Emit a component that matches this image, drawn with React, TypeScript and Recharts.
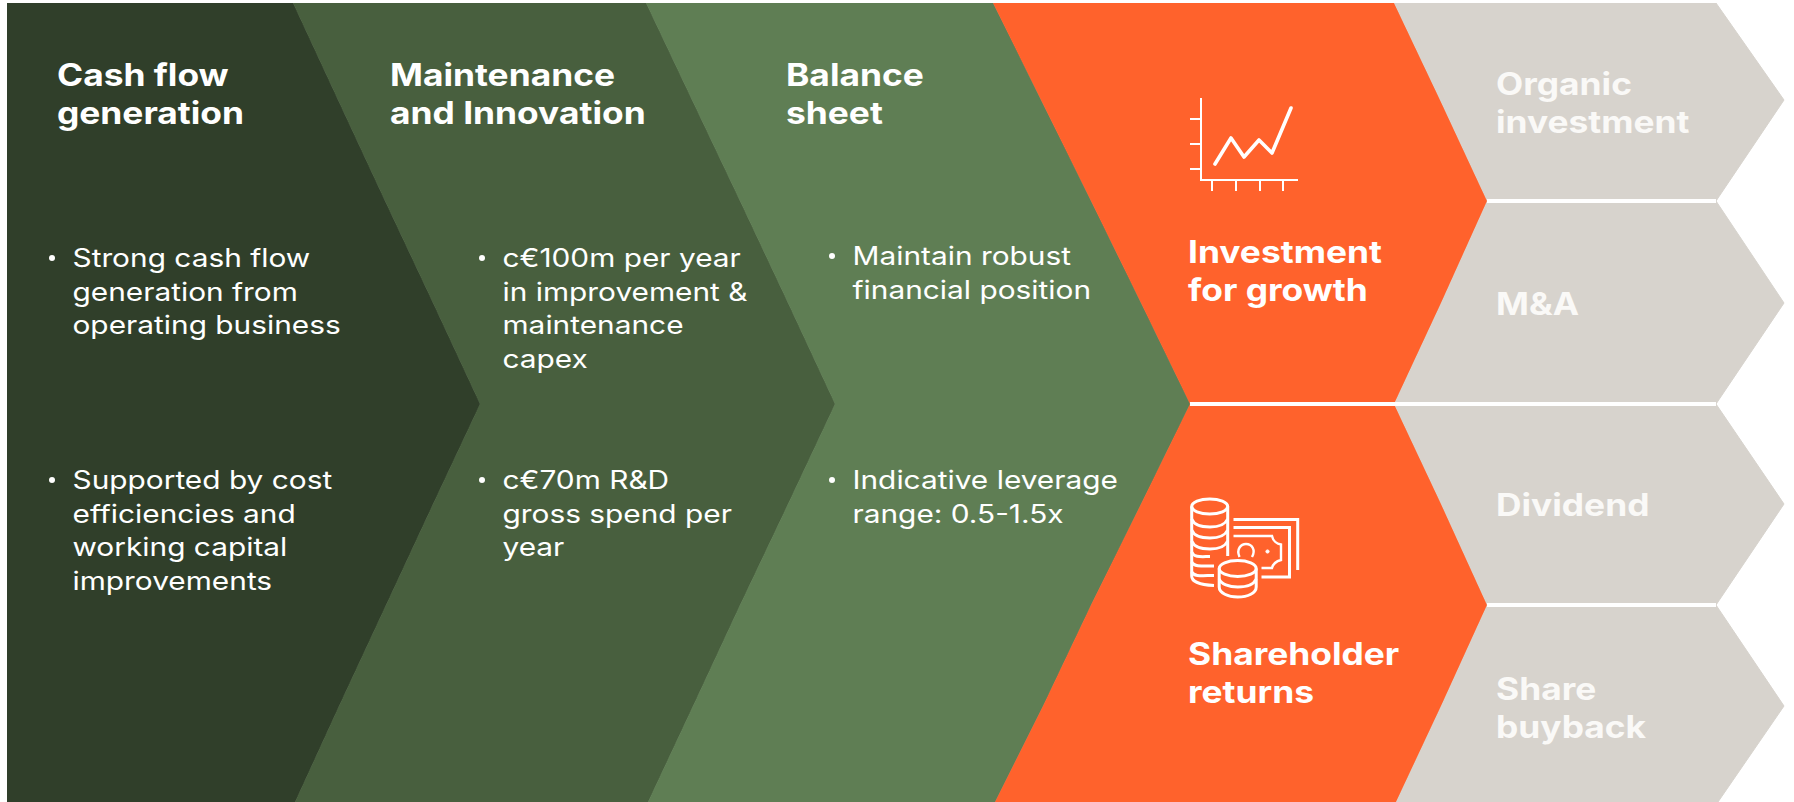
import { Area, ComposedChart, ReferenceLine, XAxis, YAxis } from "recharts";

const WIDTH = 1794;
const HEIGHT = 802;

// Vertical position down the diagram where each outline changes direction
const levels = [3, 100, 201, 303, 404, 504, 605, 706, 802];

// Stacked span of each stage at every level
const leftMargin = [7, 7, 7, 7, 7, 7, 7, 7, 7];
const cashFlow = [286, 331, 378, 426, 473, 426, 379, 332, 288];
const maintenance = [353, 354, 355, 355, 355, 355, 354, 354, 353];
const balanceSheet = [347, 349, 351, 353, 355, 353, 351, 350, 347];
const allocation = [401, 399, 396, 300, 204, 300, 396, 398, 401];
const outcomes = [322, 344, 229, 343, 322, 343, 229, 343, 322];

const stages = [
  { key: "cashFlow", color: "#303F2A" },
  { key: "maintenance", color: "#485F3E" },
  { key: "balanceSheet", color: "#5F7E54" },
  { key: "allocation", color: "#FF622C" },
  { key: "outcomes", color: "#D7D3CD" },
];

const chartData = levels.map((level, i) => ({
  level,
  leftMargin: leftMargin[i],
  cashFlow: cashFlow[i],
  maintenance: maintenance[i],
  balanceSheet: balanceSheet[i],
  allocation: allocation[i],
  outcomes: outcomes[i],
}));

// White gaps between the stacked blocks on the right
const gapLevelIndexes = [2, 4, 6];
const gaps = gapLevelIndexes.map((i) => {
  const greens = leftMargin[i] + cashFlow[i] + maintenance[i] + balanceSheet[i];
  const end = greens + allocation[i] + outcomes[i];
  return { y: levels[i], from: i === 4 ? greens : greens + allocation[i], to: end };
});

const FONT = "Inter, 'Noto Sans', sans-serif";

// The original typeface is wider than Inter, so the text gets stretched sideways
const Lines = ({ x, y, lines, size, weight, gap, fill = "#fff", stretch = 1.14 }: any) => (
  <text
    transform={`matrix(${stretch} 0 0 1 ${x * (1 - stretch)} 0)`}
    x={x}
    y={y}
    fontFamily={FONT}
    fontSize={size}
    fontWeight={weight}
    fill={fill}
  >
    {lines.map((line: string, i: number) => (
      <tspan key={line} x={x} dy={i === 0 ? 0 : gap}>
        {line}
      </tspan>
    ))}
  </text>
);

const Heading = ({ x, y, lines, fill }: any) => (
  <Lines x={x} y={y} lines={lines} size={31} weight={700} gap={38.5} fill={fill} />
);

const Bullet = ({ x, y, lines }: any) => (
  <g>
    <circle cx={x} cy={y - 9} r={3} fill="#fff" />
    <Lines x={x + 20.5} y={y} lines={lines} size={25.5} weight={400} gap={33.6} stretch={1.17} />
  </g>
);

const GrowthIcon = () => (
  <g fill="none" stroke="#fff" strokeWidth={2}>
    <path d="M1201 98V180H1298M1190 119H1201M1190 144H1201M1190 169H1201M1212 180V191M1236 180V191M1260 180V191M1283 180V191" />
    <path
      d="M1215 164L1231 138L1244 157L1259 140L1272 153L1291 108"
      strokeWidth={3.6}
      strokeLinecap="round"
      strokeLinejoin="round"
    />
  </g>
);

const CoinsIcon = () => (
  <g fill="none" stroke="#fff" strokeWidth={3}>
    <ellipse cx={1209.7} cy={506.5} rx={18} ry={7.5} />
    <path d="M1191.7 506.5V576C1191.7 581 1199 585 1214 585.5M1227.7 506.5V556" />
    <path d="M1191.7 519C1194 525 1202 527 1210 527C1218 527 1225 525 1227.7 519" />
    <path d="M1191.7 530C1194 536 1202 538 1210 538C1218 538 1225 536 1227.7 530" />
    <path d="M1191.7 541C1194 547 1202 549 1210 549C1218 549 1225 547 1227.7 541" />
    <path d="M1191.7 552C1194 558 1202 556.5 1210 556.5M1191.7 562C1194 567 1203 566 1214 566M1191.7 572C1194 577 1203 575.5 1214 575.5" />
    <ellipse cx={1237.7} cy={568.5} rx={18.5} ry={8} />
    <path d="M1219.2 568.5V587C1219.2 593 1228 597 1237.7 597C1248 597 1256.2 593 1256.2 587V568.5" />
    <path d="M1219.2 579C1221 584 1229 587 1237.7 587C1247 587 1254 584 1256.2 579" />
    <path d="M1233.5 519.5H1297.7V570M1233.5 527.5H1289.5V577H1261.5" strokeWidth={3} />
    <path
      d="M1233.5 536H1272C1273 541 1277 544 1281 544.5V560C1277 561 1273 564 1272 568H1261.5"
      strokeWidth={2.4}
    />
    <path d="M1239.5 557C1236 549 1241 544 1246 544C1252 544 1256 550 1252 557" strokeWidth={2.4} />
    <circle cx={1267.5} cy={551.5} r={1.6} fill="#fff" strokeWidth={1} />
  </g>
);

const DiagramText = () => (
  <svg width={WIDTH} height={HEIGHT} style={{ position: "absolute", left: 0, top: 0 }}>
    <Heading x={57} y={86} lines={["Cash flow", "generation"]} />
    <Heading x={390} y={86} lines={["Maintenance", "and Innovation"]} />
    <Heading x={786} y={86} lines={["Balance", "sheet"]} />

    <Bullet x={52} y={267} lines={["Strong cash flow", "generation from", "operating business"]} />
    <Bullet x={52} y={489} lines={["Supported by cost", "efficiencies and", "working capital", "improvements"]} />
    <Bullet
      x={482}
      y={267}
      lines={["c€100m per year", "in improvement &", "maintenance", "capex"]}
    />
    <Bullet x={482} y={489} lines={["c€70m R&D", "gross spend per", "year"]} />
    <Bullet x={832} y={265} lines={["Maintain robust", "financial position"]} />
    <Bullet x={832} y={489} lines={["Indicative leverage", "range: 0.5-1.5x"]} />

    <GrowthIcon />
    <Heading x={1188} y={263} lines={["Investment", "for growth"]} />
    <CoinsIcon />
    <Heading x={1188} y={665} lines={["Shareholder", "returns"]} />

    <Heading x={1496} y={95} lines={["Organic", "investment"]} fill="#FAF9F7" />
    <Heading x={1496} y={315} lines={["M&A"]} fill="#FAF9F7" />
    <Heading x={1496} y={516} lines={["Dividend"]} fill="#FAF9F7" />
    <Heading x={1496} y={700} lines={["Share", "buyback"]} fill="#FAF9F7" />
  </svg>
);

export default function App() {
  return (
    <div style={{ position: "absolute", left: 0, top: 0, width: WIDTH, height: HEIGHT }}>
      <ComposedChart
        width={WIDTH}
        height={HEIGHT}
        data={chartData}
        layout="vertical"
        margin={{ top: 0, right: 0, bottom: 0, left: 0 }}
      >
        <XAxis type="number" domain={[0, WIDTH]} hide />
        <YAxis type="number" dataKey="level" domain={[0, HEIGHT]} hide />
        <Area
          dataKey="leftMargin"
          stackId="flow"
          type="linear"
          fill="none"
          stroke="none"
          dot={false}
          activeDot={false}
          isAnimationActive={false}
        />
        {stages.map((stage) => (
          <Area
            key={stage.key}
            dataKey={stage.key}
            stackId="flow"
            type="linear"
            fill={stage.color}
            fillOpacity={1}
            stroke={stage.color}
            strokeWidth={1}
            dot={false}
            activeDot={false}
            isAnimationActive={false}
          />
        ))}
        {gaps.map((gap) => (
          <ReferenceLine
            key={gap.y}
            segment={[
              { x: gap.from, y: gap.y },
              { x: gap.to, y: gap.y },
            ]}
            stroke="#fff"
            strokeWidth={4}
          />
        ))}
      </ComposedChart>
      <DiagramText />
    </div>
  );
}
